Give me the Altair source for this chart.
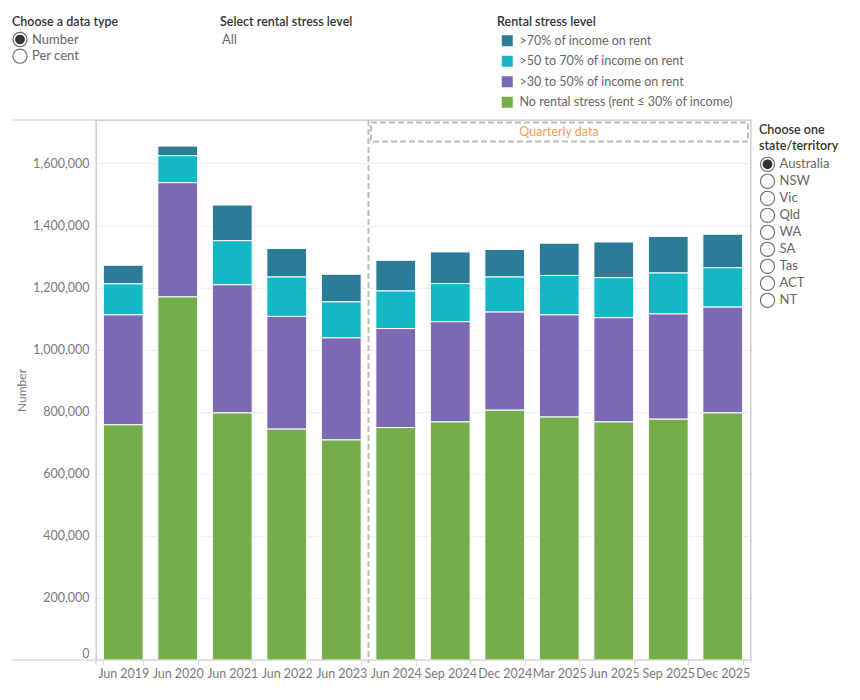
import altair as alt
import pandas as pd

# ---- data ----
periods = ["Jun 2019", "Jun 2020", "Jun 2021", "Jun 2022", "Jun 2023",
           "Jun 2024", "Sep 2024", "Dec 2024", "Mar 2025", "Jun 2025",
           "Sep 2025", "Dec 2025"]
no_stress = [758000, 1170000, 796000, 744000, 709000, 749000, 767000, 805000,
             783000, 767000, 776000, 796000]
stress_30_50 = [354000, 368000, 413000, 363000, 329000, 319000, 323000, 316000,
                329000, 336000, 339000, 341000]
stress_50_70 = [100000, 87000, 142000, 127000, 116000, 121000, 123000, 113000,
                127000, 129000, 132000, 127000]
stress_70 = [60000, 31000, 115000, 92000, 89000, 99000, 102000, 89000,
             104000, 115000, 118000, 108000]

levels = [">70% of income on rent", ">50 to 70% of income on rent",
          ">30 to 50% of income on rent", "No rental stress (rent ≤ 30% of income)"]
level_colors = ["#2D7C97", "#14B8C5", "#7B69B4", "#75AD4A"]
y_ticks = [0, 200000, 400000, 600000, 800000, 1000000, 1200000, 1400000, 1600000]
states = ["Australia", "NSW", "Vic", "Qld", "WA", "SA", "Tas", "ACT", "NT"]
data_types = ["Number", "Per cent"]

# ---- long table ----
series = [stress_70, stress_50_70, stress_30_50, no_stress]
rows = []
for lvl, vals in zip(levels, series):
    stack_order = 3 - levels.index(lvl)
    for p, v in zip(periods, vals):
        rows.append({"period": p, "level": lvl, "value": v, "ord": stack_order})
df = pd.DataFrame(rows)

FONT = "Lato"
W, H = 654, 540
LEFT, TOP = 96, 120

bars = alt.Chart(df).mark_bar(stroke="white", strokeWidth=1).encode(
    x=alt.X("period:N", sort=periods,
            scale=alt.Scale(paddingInner=0.27, paddingOuter=0.135),
            axis=alt.Axis(title=None, labelAngle=0, labelColor="#7a7a7a",
                          labelFontSize=12.5, tickBand="extent", tickColor="#dddddd",
                          tickSize=5, domain=False, labelPadding=2, labelFont=FONT)),
    y=alt.Y("value:Q", stack="zero",
            scale=alt.Scale(domain=[0, 1740000], nice=False, zero=True),
            axis=alt.Axis(title="Number", values=y_ticks, format=",.0f", grid=True,
                          gridColor="#efefef", domain=False, ticks=False,
                          labelPadding=7, labelFlush=True, labelColor="#7a7a7a",
                          labelFontSize=12.5, labelFont=FONT,
                          titleColor="#7a7a7a", titleFontSize=12, titleFontWeight="normal",
                          titlePadding=4, titleFont=FONT)),
    color=alt.Color("level:N", scale=alt.Scale(domain=levels, range=level_colors),
                    legend=alt.Legend(title="Rental stress level", orient="none",
                                      legendX=401, legendY=-104,
                                      symbolType="square", symbolSize=121,
                                      symbolStrokeWidth=0, symbolOffset=4,
                                      labelOffset=6, rowPadding=7.5, titlePadding=6,
                                      labelFontSize=12.5, labelColor="#666666",
                                      titleFontSize=12.5, titleColor="#333333",
                                      titleFontWeight=600, labelFont=FONT,
                                      titleFont=FONT, labelLimit=400)),
    order=alt.Order("ord:Q", sort="ascending"),
)


def one():
    return pd.DataFrame({"k": [0]})


def rule(x1, y1, x2, y2, color="#c8c8c8", width=1, dash=None):
    kw = dict(color=color, strokeWidth=width)
    if dash:
        kw["strokeDash"] = dash
    return alt.Chart(one()).mark_rule(**kw).encode(
        x=alt.value(x1), x2=alt.value(x2), y=alt.value(y1), y2=alt.value(y2))


def text(s, x, y, size=12, color="#666666", weight="normal", align="left"):
    return alt.Chart(pd.DataFrame({"t": [s]})).mark_text(
        align=align, baseline="middle", fontSize=size, color=color,
        fontWeight=weight, font=FONT).encode(
        x=alt.value(x), y=alt.value(y), text="t:N")


def radio(x, y, selected):
    layers = [alt.Chart(one()).mark_point(shape="circle", size=200, filled=False,
                                          color="#333333", strokeWidth=1.2).encode(
        x=alt.value(x), y=alt.value(y))]
    if selected:
        layers.append(alt.Chart(one()).mark_point(shape="circle", size=95, filled=True,
                                                  color="#333333", opacity=1).encode(
            x=alt.value(x), y=alt.value(y)))
    return layers


def ax(v):
    return v - LEFT


def ay(v):
    return v - TOP


layers = [bars]
# frame lines
layers.append(rule(ax(12), 0, ax(751), 0))
layers.append(rule(ax(12), H, ax(751), H))
layers.append(rule(0, 0, 0, ay(664)))
layers.append(rule(ax(751), 0, ax(751), ay(663)))
# quarterly separator and box
layers.append(rule(ax(368.5), 0, ax(368.5), ay(663), color="#bdbdbd", width=2, dash=[6, 3]))
layers.append(alt.Chart(one()).mark_rect(fill=None, filled=False, stroke="#bdbdbd",
                                         strokeWidth=2, strokeDash=[6, 3]).encode(
    x=alt.value(ax(371)), x2=alt.value(ax(748)), y=alt.value(ay(122.5)), y2=alt.value(ay(141.5))))
layers.append(text("Quarterly data", ax(559), ay(132), size=12.5, color="#F4A04D", align="center"))

# control: data type
layers.append(text("Choose a data type", ax(12), ay(22), size=12.5, color="#333333", weight=600))
for i, s in enumerate(data_types):
    yy = ay(39.5 + 16.7 * i)
    layers += radio(ax(20), yy, i == 0)
    layers.append(text(s, ax(32), yy, size=13, color="#666666"))

# control: rental stress level
layers.append(text("Select rental stress level", ax(220), ay(22), size=12.5, color="#333333", weight=600))
layers.append(text("All", ax(222), ay(39.5), size=13, color="#666666"))

# control: state/territory
layers.append(text("Choose one", ax(759), ay(130), size=12.5, color="#333333", weight=600))
layers.append(text("state/territory", ax(759), ay(146), size=12.5, color="#333333", weight=600))
for i, s in enumerate(states):
    yy = ay(164.3 + 17 * i)
    layers += radio(ax(767.5), yy, i == 0)
    layers.append(text(s, ax(779.5), yy, size=13, color="#666666"))

chart = alt.layer(*layers).properties(
    width=W, height=H,
    padding={"left": LEFT, "top": TOP, "right": 860 - LEFT - W, "bottom": 700 - TOP - H},
    autosize=alt.AutoSizeParams(type="none"),
).configure_view(stroke=None).configure(font=FONT, background="white")

chart.save("out.html", embed_options={"renderer": "svg", "actions": False})
